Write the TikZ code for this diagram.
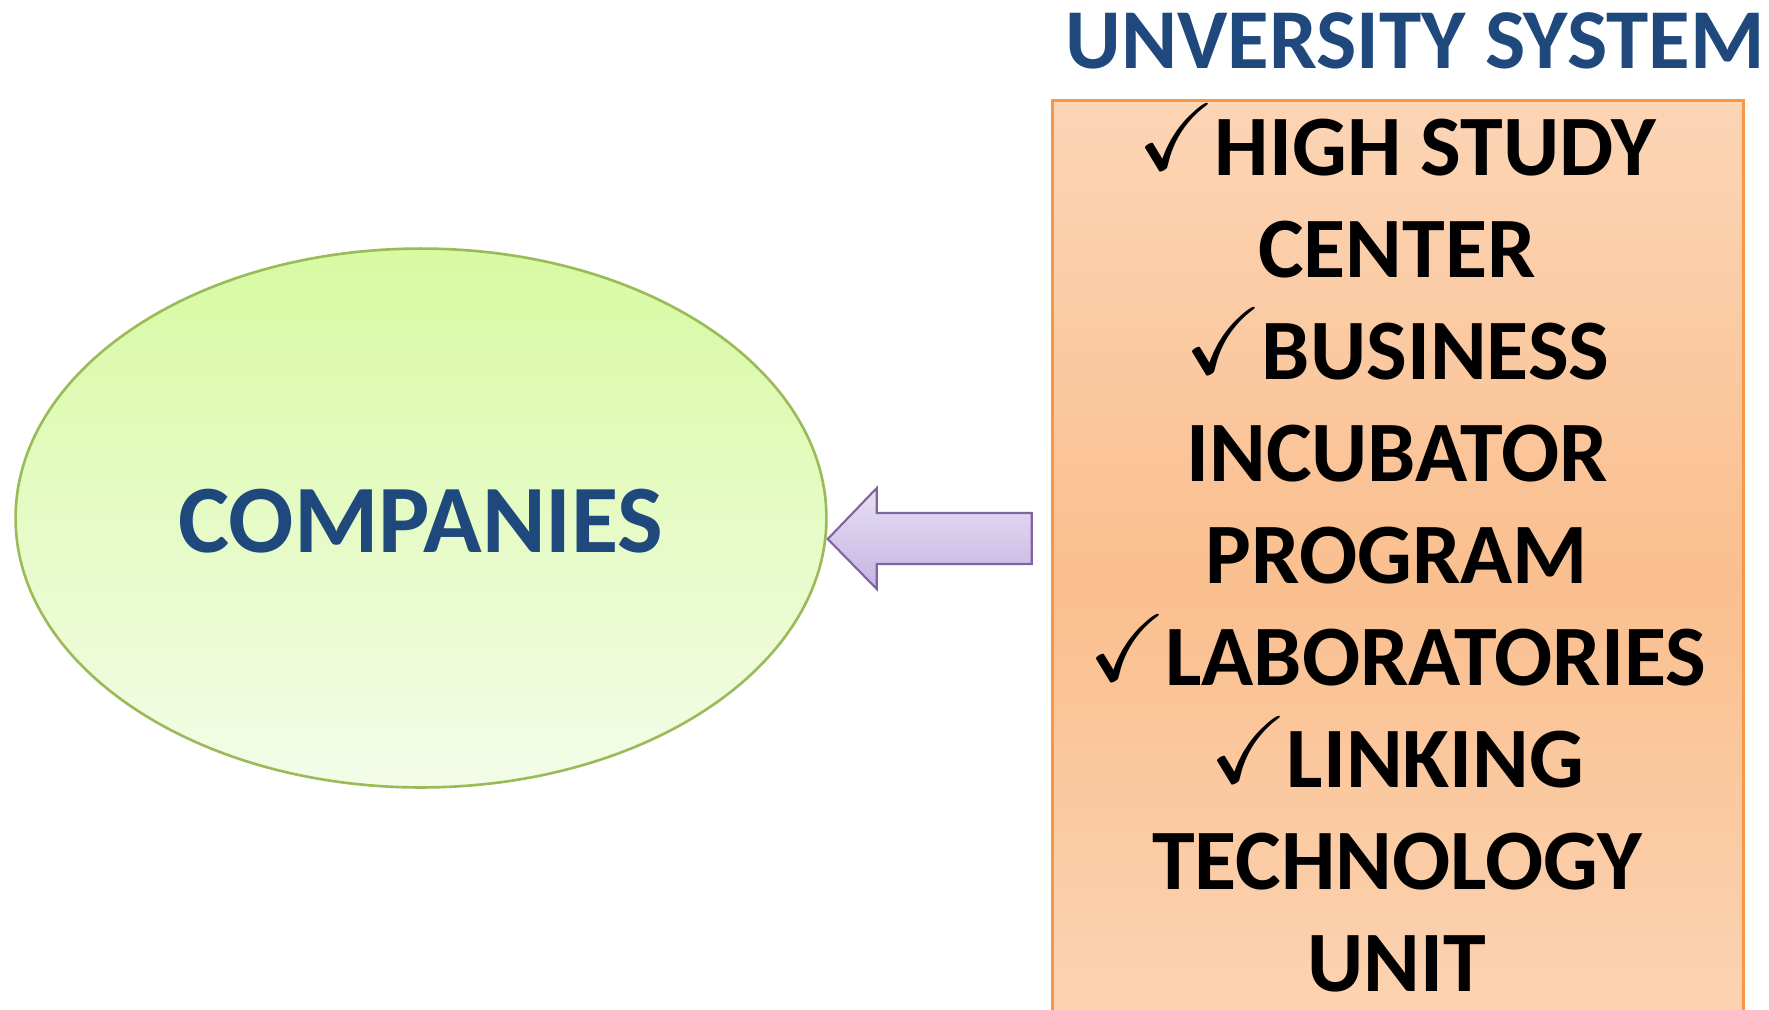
\documentclass[tikz,border=0pt]{standalone}
\usepackage{fontspec}
\setmainfont{Carlito}
\usepackage{amssymb}
\usetikzlibrary{shapes, shapes.geometric, arrows.meta}

\definecolor{titleBlue}{HTML}{1F497D}
\definecolor{ellipseTop}{HTML}{D7FAA2}
\definecolor{ellipseBottom}{HTML}{F4FCE8}
\definecolor{ellipseLine}{HTML}{9BBB59}
\definecolor{boxLight}{HTML}{FCD5B5}
\definecolor{boxDark}{HTML}{FABF8F}
\definecolor{boxLine}{HTML}{F79646}
\definecolor{arrowTop}{HTML}{E6E0F3}
\definecolor{arrowBottom}{HTML}{C5B4E3}
\definecolor{arrowLine}{HTML}{8064A2}

\newcommand{\chk}{\raisebox{3pt}{\scalebox{1.1}{$\checkmark$}}\kern-1pt}

\begin{document}
\begin{tikzpicture}[
    x=0.02cm, y=-0.02cm,
    titleText/.style={font=\bfseries\fontsize{48.5}{59}\selectfont, text=titleBlue, inner sep=0pt},
    companyText/.style={font=\bfseries\fontsize{55}{66}\selectfont, text=titleBlue, inner sep=0pt},
    companyShape/.style={ellipse, draw=ellipseLine, line width=1.5pt,
        top color=ellipseTop, bottom color=ellipseBottom,
        minimum width=16.22cm, minimum height=10.78cm, inner sep=0pt},
    uniBox/.style={draw=boxLine, line width=1.5pt,
        top color=boxLight, bottom color=boxLight, middle color=boxDark,
        minimum width=13.82cm, minimum height=19.2cm, inner sep=0pt},
    boxText/.style={font=\bfseries\fontsize{49}{59}\selectfont, inner sep=0pt, text depth=0pt},
    blockArrow/.style={draw=arrowLine, line width=1.2pt, line join=miter,
        top color=arrowTop, bottom color=arrowBottom},
    every node/.style={
        text centered,
        }
        ]
    \useasboundingbox (0,0) rectangle (1769,1009);
    \clip (0,0) rectangle (1769,1009);

    \node[companyShape] (ellipse) at (421,518) {};
    \node[companyText, anchor=base] (companies) at (421,552) {COMPANIES};

    \node[titleText, anchor=base] (title) at (1415,68) {UNVERSITY SYSTEM};
    \node[uniBox, anchor=north west] (uni) at (1051,99) {};

    \foreach \entry [count=\i] in {{\chk HIGH STUDY}, CENTER, {\chk BUSINESS}, INCUBATOR,
        PROGRAM, {\chk LABORATORIES}, {\chk LINKING}, TECHNOLOGY, UNIT}
        \node[boxText, anchor=base] (item\i) at (1397, {175+102.1*(\i-1)}) {\entry};

    % arrow from the university box to the companies
    \coordinate (tip) at ([yshift=-0.42cm]ellipse.east);
    \draw[blockArrow] (tip) -- ++(49,-51) -- ++(0,25) -- ++(155,0) -- ++(0,51)
        -- ++(-155,0) -- ++(0,25) -- cycle;
\end{tikzpicture}
\end{document}
